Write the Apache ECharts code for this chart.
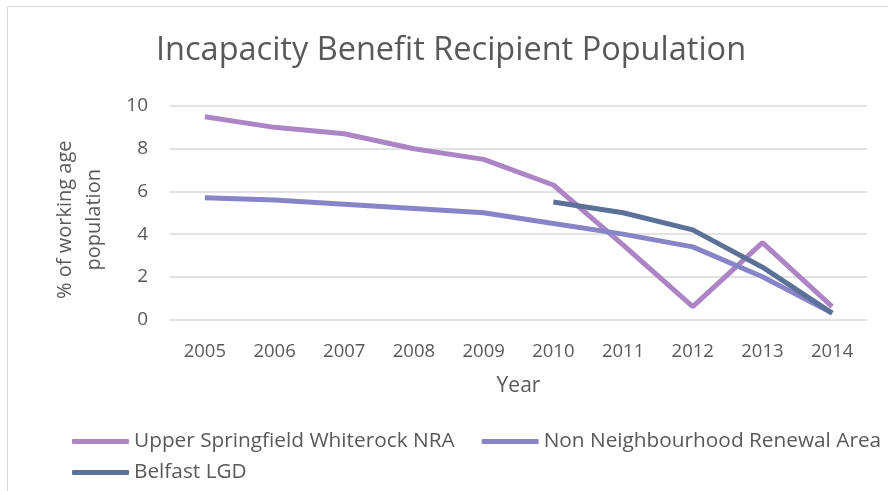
<!DOCTYPE html>
<html>
<head>
<meta charset="utf-8">
<script src="https://cdn.jsdelivr.net/npm/echarts@6/dist/echarts.min.js"></script>
<style>html,body{margin:0;padding:0;background:#fff}#c{width:888px;height:491px}</style>
</head>
<body>
<div id="c"></div>
<script>
const years = ['2005','2006','2007','2008','2009','2010','2011','2012','2013','2014'];
const upperSpringfield = [9.5, 9.0, 8.7, 8.0, 7.5, 6.3, 3.5, 0.6, 3.6, 0.6];
const nonNRA = [5.7, 5.6, 5.4, 5.2, 5.0, 4.5, 4.0, 3.4, 2.0, 0.3];
const belfastLGD = [null, null, null, null, null, 5.5, 5.0, 4.2, 2.45, 0.3];
const names = ['Upper Springfield Whiterock NRA', 'Non Neighbourhood Renewal Area', 'Belfast LGD'];
const colors = ['#ad84c6', '#8784c7', '#5b7198'];

const font = 'Open Sans';
const txt = '#595959';
const chart = echarts.init(document.getElementById('c'), null, {renderer: 'canvas'});
chart.setOption({
  animation: false,
  graphic: [{
    type: 'rect', shape: {x: 7.5, y: 6.5, width: 920, height: 520},
    style: {fill: 'none', stroke: '#d9d9d9', lineWidth: 1}, silent: true, z: -1
  }],
  title: {
    text: 'Incapacity Benefit Recipient Population',
    left: 156, top: 34, padding: 0,
    textStyle: {fontFamily: font, fontSize: 32.5, fontWeight: 'normal', color: txt}
  },
  legend: [{
    data: [names[0], names[1]], left: 72, top: 431, padding: 0, itemWidth: 57, itemHeight: 5, itemGap: 27,
    icon: 'roundRect',
    textStyle: {fontFamily: font, fontSize: 20.8, color: txt}
  }, {
    data: [names[2]], left: 72, top: 462, padding: 0, itemWidth: 57, itemHeight: 5,
    icon: 'roundRect',
    textStyle: {fontFamily: font, fontSize: 20.8, color: txt}
  }],
  grid: {left: 170, right: 21, top: 106, bottom: 171.5, containLabel: false},
  xAxis: {
    type: 'category', data: years, boundaryGap: true,
    name: 'Year', nameLocation: 'middle', nameGap: 56,
    nameTextStyle: {fontFamily: font, fontSize: 21, color: txt},
    axisLine: {show: false}, axisTick: {show: false},
    axisLabel: {fontFamily: font, fontSize: 18.5, color: txt, margin: 23}
  },
  yAxis: {
    type: 'value', min: 0, max: 10, interval: 2,
    name: '% of working age\npopulation', nameLocation: 'middle', nameGap: 61, nameRotate: 90,
    nameTextStyle: {fontFamily: font, fontSize: 20, color: txt, lineHeight: 29, padding: [0, 14, 0, 0]},
    axisLine: {show: false}, axisTick: {show: false},
    axisLabel: {fontFamily: font, fontSize: 19, color: txt, margin: 22},
    splitLine: {lineStyle: {color: '#d9d9d9', width: 1.5}}
  },
  series: [
    {name: names[0], type: 'line', data: upperSpringfield, symbol: 'none', lineStyle: {width: 5, color: colors[0]}, itemStyle: {color: colors[0]}},
    {name: names[1], type: 'line', data: nonNRA, symbol: 'none', lineStyle: {width: 5, color: colors[1]}, itemStyle: {color: colors[1]}},
    {name: names[2], type: 'line', data: belfastLGD, symbol: 'none', lineStyle: {width: 5, color: colors[2]}, itemStyle: {color: colors[2]}}
  ]
});
</script>
</body>
</html>
